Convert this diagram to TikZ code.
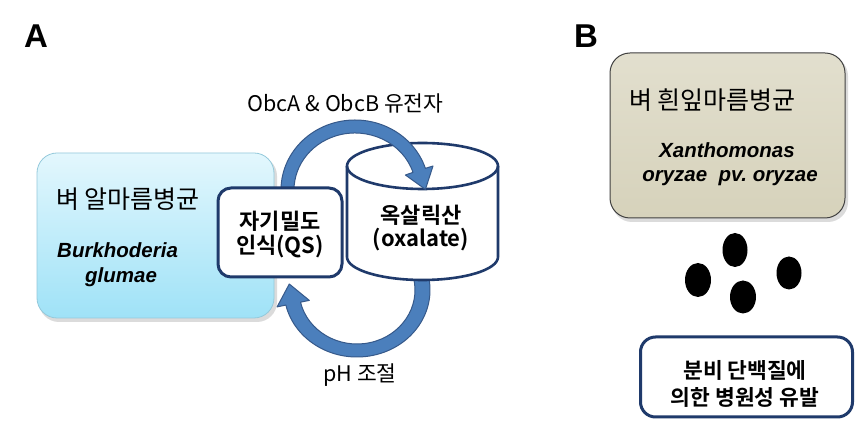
\documentclass[tikz,border=0pt]{standalone}
\usepackage{fontspec}
\setmainfont{Noto Sans CJK KR}[BoldFont={Noto Sans CJK KR Bold}]
\newfontfamily\latfont{Liberation Sans}
\usetikzlibrary{calc,shapes.geometric}
\definecolor{navy}{HTML}{1F3A6B}
\definecolor{arrowfill}{HTML}{4B7FBC}
\definecolor{arrowedge}{HTML}{36598A}
\definecolor{cyantop}{HTML}{E3F7FD}
\definecolor{cyanbot}{HTML}{9FE2F7}
\definecolor{cyanedge}{HTML}{94C9DB}
\definecolor{beigetop}{HTML}{E2DFCE}
\definecolor{beigebot}{HTML}{D6D2BB}
\definecolor{beigeedge}{HTML}{404040}
\tikzset{
  shadowbox/.style={fill=black!40, opacity=.35, rounded corners=20pt, draw=none},
  cyanbox/.style={rectangle, rounded corners=20pt, top color=cyantop, bottom color=cyanbot, draw=cyanedge, line width=0.8pt, inner sep=0pt},
  beigebox/.style={rectangle, rounded corners=20pt, top color=beigetop, bottom color=beigebot, draw=beigeedge, line width=1pt, inner sep=0pt},
  navybox/.style={rectangle, rounded corners=13pt, fill=white, draw=navy, line width=3pt, inner sep=0pt},
  bandarrow/.style={fill=arrowfill, draw=arrowedge, line width=1pt, line join=round},
  cylline/.style={draw=navy, line width=2.6pt},
  kor/.style={font=\fontsize{25}{28}\selectfont, inner sep=0pt},
  lab/.style={font=\fontsize{21.5}{24}\selectfont, inner sep=0pt},
  korb/.style={font=\fontsize{22}{26}\selectfont\bfseries, inner sep=0pt},
  korbs/.style={font=\fontsize{21.5}{26}\selectfont\bfseries, inner sep=0pt},
  sci/.style={font=\latfont\bfseries\itshape\fontsize{20.5}{24}\selectfont, inner sep=0pt},
  panel/.style={font=\latfont\bfseries\fontsize{33}{36}\selectfont, inner sep=0pt},
  dot/.style={ellipse, fill=black, inner sep=0pt},
}
\begin{document}
\begin{tikzpicture}[x=1pt,y=1pt]
\useasboundingbox (0,0) rectangle (855,-427);
\fill[white] (0,0) rectangle (855,-427);

% panel labels
\node[panel] (labA) at (36,-36) {A};
\node[panel] (labB) at (586,-36) {B};

% left cyan box
\fill[shadowbox] (39,-156) rectangle (277,-322);
\node[cyanbox, minimum width=237pt, minimum height=165pt] (bgl) at (155.5,-235.5) {};
\node[kor, anchor=west] (bglname) at (56,-199) {벼 알마름병균};
\node[sci, anchor=west] (bgl1) at (57,-250) {Burkhoderia};
\node[sci, anchor=west] (bgl2) at (85,-277) {glumae};

% bottom arrow (pH)
\coordinate (c2) at (357,-290);
\filldraw[bandarrow] (c2) ++(13:73 and 67) arc[start angle=13,end angle=-167,x radius=73,y radius=67]
  -- (277.1,-306.9) -- (289.3,-284) -- (309.3,-300.4)
  -- ($(c2)+(-167:58 and 54)$) arc[start angle=-167,end angle=13,x radius=58,y radius=54] -- cycle;

% cylinder
\filldraw[cylline, fill=white] (347,-166) -- (347,-257)
  arc[start angle=180,end angle=360,x radius=75.5,y radius=23] -- (498,-166)
  arc[start angle=0,end angle=180,x radius=75.5,y radius=23] -- cycle;
\draw[cylline] (347,-166) arc[start angle=180,end angle=360,x radius=75.5,y radius=23];
\node[korb] (oxa1) at (421,-215) {옥살릭산};
\node[korb] (oxa2) at (421,-240) {(oxalate)};

% top arrow (ObcA & ObcB)
\coordinate (c1) at (355,-190);
\filldraw[bandarrow] (c1) ++(185:74 and 70) arc[start angle=185,end angle=18,x radius=74,y radius=70]
  -- (433,-166) -- (425.4,-189.4) -- (405.4,-175)
  -- ($(c1)+(18:61 and 57)$) arc[start angle=18,end angle=185,x radius=61,y radius=57] -- cycle;

% QS box
\node[navybox, minimum width=124pt, minimum height=89pt] (qs) at (280,-232.5) {};
\node[korb] (qs1) at (280,-221) {자기밀도};
\node[korb] (qs2) at (280,-247) {인식(QS)};

% arrow labels
\node[lab] (obc) at (345.5,-103) {ObcA \& ObcB 유전자};
\node[lab] (ph) at (360,-375) {pH 조절};

% right beige box
\fill[shadowbox] (612,-56) rectangle (848,-222);
\node[beigebox, minimum width=235pt, minimum height=165pt] (xoo) at (727.5,-135.5) {};
\node[kor, anchor=west] (xooname) at (629,-100) {벼 흰잎마름병균};
\node[sci] (xoo1) at (727,-150) {Xanthomonas};
\node[sci] (xoo2) at (730,-178) {oryzae\ \ pv.\ oryzae};

% secreted proteins
\node[dot, minimum width=25pt, minimum height=34pt] (d1) at (735,-250) {};
\node[dot, minimum width=26pt, minimum height=34pt] (d2) at (698,-280) {};
\node[dot, minimum width=25pt, minimum height=33pt] (d3) at (789,-273) {};
\node[dot, minimum width=26pt, minimum height=33pt] (d4) at (743,-297) {};

% bottom box
\node[navybox, rounded corners=15pt, minimum width=212pt, minimum height=80pt] (path) at (746.5,-377) {};
\node[korbs] (path1) at (745,-370) {분비 단백질에};
\node[korbs] (path2) at (745,-397) {의한 병원성 유발};
\end{tikzpicture}
\end{document}
